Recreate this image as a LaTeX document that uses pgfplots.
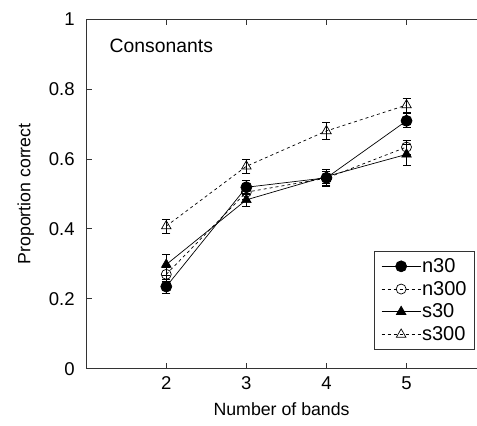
\documentclass[border=0pt]{standalone}
\usepackage{pgfplots}
\pgfplotsset{compat=1.18}
\usepackage{fontspec}
\setmainfont{Liberation Sans}
\begin{document}
\begin{tikzpicture}
\begin{axis}[name=ax, scale only axis, width=390pt, height=349pt,
  xmin=1, xmax=5.88, ymin=0, ymax=1,
  axis x line=box, axis y line=left, axis line style={-, line width=0.9pt, black!80},
  tick align=inside, major tick length=6pt, tick style={line width=0.8pt, black!80},
  xtick={2,3,4,5}, ytick={0,0.2,0.4,0.6,0.8,1},
  /pgf/number format/assume math mode=true,
  tick label style={font=\fontsize{18.5}{21}\selectfont},
  label style={font=\fontsize{17.7}{21}\selectfont},
  xlabel={Number of bands}, ylabel={Proportion correct},
  xlabel shift=6pt, ylabel shift=8pt,
  xticklabel style={yshift=-4pt}, yticklabel style={xshift=-8pt},
  legend style={at={(0.995,0.338)}, anchor=north east, font=\fontsize{20}{22}\selectfont,
    draw=black!80, line width=0.8pt, row sep=0pt, inner xsep=7pt, inner ysep=4pt,
    nodes={inner xsep=1pt, inner ysep=3.6pt},
    legend cell align=left},
  legend image code/.code={\draw[mark repeat=2, mark phase=2, #1] plot coordinates {(0pt,0pt) (19.5pt,0pt) (39pt,0pt)};},
  every axis plot/.append style={black, line width=0.7pt},
  error bars/y dir=both, error bars/y explicit,
  error bars/error bar style={solid, line width=0.7pt},
  error bars/error mark options={rotate=90, mark size=4pt, solid, line width=0.7pt},
]
\addplot[solid, mark=*, mark size=5.5pt] coordinates {
 (2,0.235) +- (0,0.02) (3,0.519) +- (0,0.02) (4,0.546) +- (0,0.025) (5,0.709) +- (0,0.02)};
\addlegendentry{n30}
\addplot[dash pattern=on 3pt off 3pt, mark=o, mark size=5pt, mark options={solid, fill=white}] coordinates {
 (2,0.27) +- (0,0.02) (3,0.505) +- (0,0.02) (4,0.545) +- (0,0.02) (5,0.634) +- (0,0.02)};
\addlegendentry{n300}
\addplot[solid, mark=triangle*, mark size=5.5pt] coordinates {
 (2,0.298) +- (0,0.03) (3,0.483) +- (0,0.02) (4,0.55) +- (0,0.02) (5,0.613) +- (0,0.03)};
\addlegendentry{s30}
\addplot[dash pattern=on 3pt off 3pt, mark=triangle, mark size=5.5pt, mark options={solid, fill=white}] coordinates {
 (2,0.408) +- (0,0.02) (3,0.579) +- (0,0.02) (4,0.68) +- (0,0.025) (5,0.754) +- (0,0.02)};
\addlegendentry{s300}
\node[anchor=west, font=\fontsize{19.3}{22}\selectfont] at (axis cs:1.25,0.923) {Consonants};
\end{axis}
\pgfresetboundingbox
\path ([shift={(-86pt,-57pt)}]ax.south west) rectangle ([shift={(0pt,19pt)}]ax.north east);
\end{tikzpicture}
\end{document}
